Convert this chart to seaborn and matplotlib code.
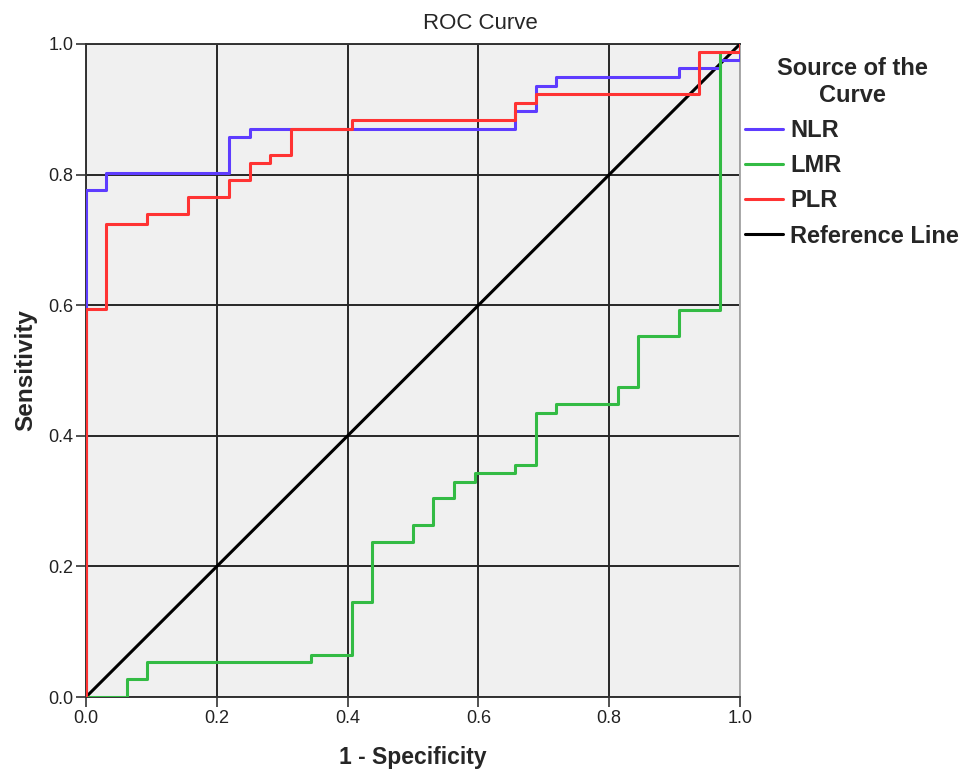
import pandas as pd
import matplotlib.pyplot as plt
import seaborn as sns

# ROC points (1 - specificity, sensitivity)
nlr_fpr = [0.0, 0.0, 0.031, 0.219, 0.250, 0.656, 0.688, 0.719, 0.906, 0.969, 1.0]
nlr_tpr = [0.0, 0.777, 0.803, 0.857, 0.870, 0.897, 0.936, 0.949, 0.963, 0.975, 1.0]

lmr_fpr = [0.0, 0.062, 0.094, 0.344, 0.406, 0.438, 0.500, 0.531, 0.563, 0.594,
           0.656, 0.688, 0.719, 0.813, 0.844, 0.906, 0.969, 1.0]
lmr_tpr = [0.0, 0.027, 0.054, 0.065, 0.146, 0.238, 0.264, 0.304, 0.329, 0.343,
           0.356, 0.435, 0.449, 0.475, 0.553, 0.593, 0.988, 1.0]

plr_fpr = [0.0, 0.0, 0.031, 0.094, 0.156, 0.219, 0.250, 0.281, 0.313, 0.406,
           0.656, 0.688, 0.938, 1.0]
plr_tpr = [0.0, 0.594, 0.725, 0.739, 0.765, 0.791, 0.817, 0.830, 0.870, 0.884,
           0.910, 0.924, 0.988, 1.0]

ref_x = [0.0, 1.0]
ref_y = [0.0, 1.0]

curve_names = ["NLR", "LMR", "PLR"]
curve_colors = ["#5e3cff", "#33bb44", "#ff3333"]
ticks = [0.0, 0.2, 0.4, 0.6, 0.8, 1.0]

sns.set_style("white")
plt.rcParams["font.family"] = ["Liberation Sans", "DejaVu Sans"]

fig = plt.figure(figsize=(9.74, 7.69), dpi=100)
ax = fig.add_axes([0.0883, 0.0936, 0.6715, 0.8492])
ax.set_facecolor("#f0f0f0")

curves = [(nlr_fpr, nlr_tpr), (lmr_fpr, lmr_tpr), (plr_fpr, plr_tpr)]
for name, color, (fx, ty) in zip(curve_names, curve_colors, curves):
    df = pd.DataFrame({"fpr": fx, "tpr": ty})
    sns.lineplot(data=df, x="fpr", y="tpr", ax=ax, color=color, lw=2.2,
                 estimator=None, sort=False, drawstyle="steps-post",
                 label=name, zorder=4)

ref = pd.DataFrame({"fpr": ref_x, "tpr": ref_y})
sns.lineplot(data=ref, x="fpr", y="tpr", ax=ax, color="black", lw=2.2,
             estimator=None, sort=False, label="Reference Line", zorder=3)

ax.set_xlim(0, 1)
ax.set_ylim(0, 1)
ax.set_xticks(ticks)
ax.set_yticks(ticks)
ax.set_xticklabels([f"{t:.1f}" for t in ticks])
ax.set_yticklabels([f"{t:.1f}" for t in ticks])
ax.grid(True, color="#262626", lw=1.4)
ax.set_axisbelow(True)
ax.tick_params(direction="out", length=7, width=1.2, color="#333333",
               labelsize=13, labelcolor="#222222", pad=2,
               bottom=True, left=True)

for side in ["left", "bottom", "top"]:
    ax.spines[side].set_color("#333333")
    ax.spines[side].set_linewidth(1.4)
ax.spines["right"].set_color("#a8a8a8")
ax.spines["right"].set_linewidth(1.4)

fig.text(0.493, 0.962, "ROC Curve", fontsize=16, ha="center", va="baseline")
ax.set_xlabel("1 - Specificity", fontsize=16.5, fontweight="bold", labelpad=14)
ax.set_ylabel("Sensitivity", fontsize=17.5, fontweight="bold", labelpad=8)

handles, labels = ax.get_legend_handles_labels()
ax.get_legend().remove()
leg = fig.legend(handles, labels, title="Source of the\nCurve",
                 loc="upper left", bbox_to_anchor=(0.765, 0.926),
                 frameon=False, fontsize=17, handlelength=1.6,
                 handletextpad=0.3, labelspacing=0.52, borderaxespad=0,
                 borderpad=0)
leg.get_title().set_fontweight("bold")
leg.get_title().set_fontsize(17)
leg.get_title().set_multialignment("center")
leg.get_title().set_linespacing(1.2)
for t in leg.get_texts():
    t.set_fontweight("bold")
for h in leg.legend_handles:
    h.set_linewidth(2.2)

fig.savefig("out.png", dpi=100)
